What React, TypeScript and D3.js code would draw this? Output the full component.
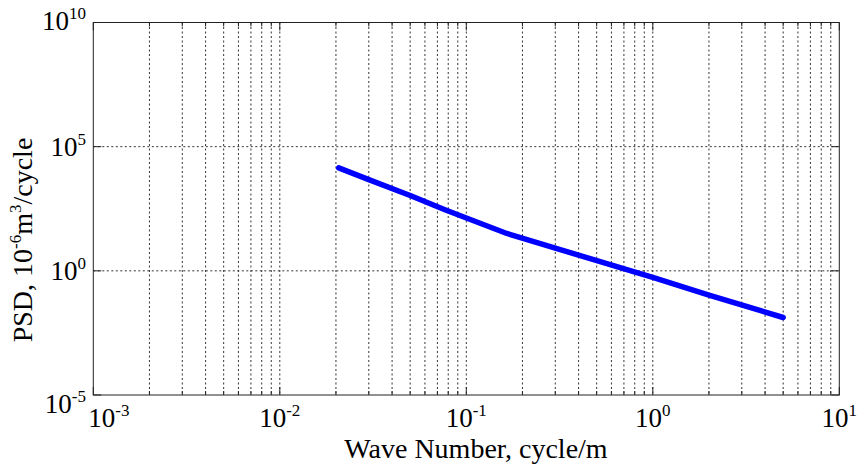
import React from "react";
import * as d3 from "d3";

// ---- data ----
const waveNumber = [0.0207, 0.03, 0.05, 0.078, 0.165, 0.3, 0.78, 1, 2, 5];
const psd = [14000, 4700, 1080, 275, 32, 8.2, 0.95, 0.54, 0.105, 0.0132];

const xMajorExps = [-3, -2, -1, 0, 1];
const yMajorExps = [-5, 0, 5, 10];
const xTickLabels = ["-3", "-2", "-1", "0", "1"];
const yTickLabels = ["-5", "0", "5", "10"];

const W = 860;
const H = 466;
const left = 93.3;
const right = 839.3;
const top = 22.5;
const bottom = 395;

const FONT = "'Liberation Serif', 'Times New Roman', serif";

export default function App() {
  const x = d3.scaleLog().domain([1e-3, 1e1]).range([left, right]);
  const y = d3.scaleLog().domain([1e-5, 1e10]).range([bottom, top]);

  const minorX: number[] = [];
  for (let e = -3; e < 1; e++) {
    for (let k = 2; k <= 9; k++) minorX.push(k * Math.pow(10, e));
  }
  const majorX = xMajorExps.map((e) => Math.pow(10, e));
  const majorY = yMajorExps.map((e) => Math.pow(10, e));

  const line = d3
    .line<number>()
    .x((_, i) => x(waveNumber[i]))
    .y((d) => y(d));
  const pathD = line(psd) || "";

  const gridStyle = { stroke: "#333", strokeWidth: 1, strokeDasharray: "2,2.5" };

  return (
    <svg
      width={W}
      height={H}
      style={{ position: "absolute", left: 0, top: 0, background: "#fff", fontFamily: FONT }}
    >
      <rect x={0} y={0} width={W} height={H} fill="#fff" />
      {/* vertical grid lines */}
      {[...minorX, ...majorX.slice(1, -1)].map((v, i) => (
        <line key={"gx" + i} x1={x(v)} x2={x(v)} y1={top} y2={bottom} {...gridStyle} />
      ))}
      {/* horizontal grid lines */}
      {majorY.slice(1, -1).map((v, i) => (
        <line key={"gy" + i} x1={left} x2={right} y1={y(v)} y2={y(v)} {...gridStyle} />
      ))}
      {/* ticks */}
      {majorX.map((v, i) => (
        <g key={"tx" + i}>
          <line x1={x(v)} x2={x(v)} y1={bottom} y2={bottom - 8} stroke="#222" />
          <line x1={x(v)} x2={x(v)} y1={top} y2={top + 8} stroke="#222" />
        </g>
      ))}
      {minorX.map((v, i) => (
        <g key={"mx" + i}>
          <line x1={x(v)} x2={x(v)} y1={bottom} y2={bottom - 4} stroke="#222" />
          <line x1={x(v)} x2={x(v)} y1={top} y2={top + 4} stroke="#222" />
        </g>
      ))}
      {majorY.map((v, i) => (
        <g key={"ty" + i}>
          <line x1={left} x2={left + 8} y1={y(v)} y2={y(v)} stroke="#222" />
          <line x1={right} x2={right - 8} y1={y(v)} y2={y(v)} stroke="#222" />
        </g>
      ))}
      {/* data line */}
      <path
        d={pathD}
        fill="none"
        stroke="#0000ff"
        strokeWidth={5.5}
        strokeLinejoin="round"
        strokeLinecap="round"
      />
      {/* axes box */}
      <rect
        x={left}
        y={top}
        width={right - left}
        height={bottom - top}
        fill="none"
        stroke="#222"
        strokeWidth={1}
      />
      {/* x tick labels */}
      {majorX.map((v, i) => (
        <text
          key={"lx" + i}
          x={i === 0 ? x(v) - 5 : x(v)}
          y={427}
          fontSize={27}
          textAnchor={i === 0 ? "start" : "middle"}
          fill="#000"
        >
          10
          <tspan fontSize={17} dy={-11}>
            {xTickLabels[i]}
          </tspan>
        </text>
      ))}
      {/* y tick labels */}
      {majorY.map((v, i) => {
        const off = i === 0 ? 18 : i === majorY.length - 1 ? 7.5 : 9.5;
        return (
          <text
            key={"ly" + i}
            x={86}
            y={y(v) + off}
            fontSize={27}
            textAnchor="end"
            fill="#000"
          >
            10
            <tspan fontSize={17} dy={-11}>
              {yTickLabels[i]}
            </tspan>
          </text>
        );
      })}
      {/* axis titles */}
      <text x={476} y={458} fontSize={28} textAnchor="middle" fill="#000">
        Wave Number, cycle/m
      </text>
      <text
        transform={`translate(32, 240) rotate(-90)`}
        fontSize={28}
        textAnchor="middle"
        fill="#000"
      >
        PSD, 10
        <tspan fontSize={17} dy={-11}>-6</tspan>
        <tspan dy={11}>m</tspan>
        <tspan fontSize={17} dy={-11}>3</tspan>
        <tspan dy={11}>/cycle</tspan>
      </text>
    </svg>
  );
}
